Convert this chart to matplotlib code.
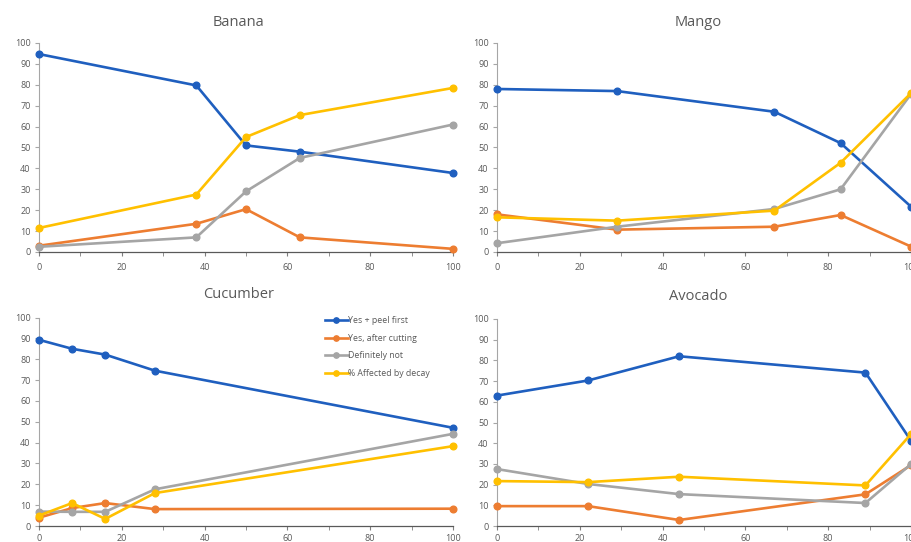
import numpy as np
import matplotlib
matplotlib.use('Agg')
import matplotlib.pyplot as plt

## survey results per fruit, x = % of sample affected by decay
banana_x = [0, 38, 50, 63, 100]
banana_peel = [94.7, 79.7, 51, 48, 37.8]
banana_cut = [3, 13.5, 20.5, 7, 1.5]
banana_not = [2.5, 7, 29, 45, 61]
banana_decay = [11.5, 27.5, 55, 65.5, 78.5]

mango_x = [0, 29, 67, 83, 100]
mango_peel = [78, 77, 67.1, 52.1, 21.7]
mango_cut = [18, 10.7, 12.1, 17.7, 2.6]
mango_not = [4.2, 12.1, 20.6, 30, 75.6]
mango_decay = [16.6, 15, 19.8, 42.7, 76]

cucumber_x = [0, 8, 16, 28, 100]
cucumber_peel = [89.3, 85, 82.2, 74.5, 47.1]
cucumber_cut = [4, 8.6, 11, 8.1, 8.3]
cucumber_not = [6.9, 6.8, 6.8, 17.6, 44.2]
cucumber_decay = [5, 11, 3.4, 15.8, 38.3]

avocado_x = [0, 22, 44, 89, 100]
avocado_peel = [63, 70.3, 82, 74.1, 41.2]
avocado_cut = [9.6, 9.6, 2.9, 15.3, 29.4]
avocado_not = [27.5, 20.3, 15.4, 11.1, 29.9]
avocado_decay = [21.7, 21.2, 23.8, 19.6, 44.4]

series_names = ['Yes + peel first', 'Yes, after cutting', 'Definitely not', '% Affected by decay']
series_colors = ['#1F5FBF', '#ED7D31', '#A5A5A5', '#FFC000']

panels = [
    ('Banana', banana_x, [banana_peel, banana_cut, banana_not, banana_decay]),
    ('Mango', mango_x, [mango_peel, mango_cut, mango_not, mango_decay]),
    ('Cucumber', cucumber_x, [cucumber_peel, cucumber_cut, cucumber_not, cucumber_decay]),
    ('Avocado', avocado_x, [avocado_peel, avocado_cut, avocado_not, avocado_decay]),
]

W, H = 912, 542
fig = plt.figure(figsize=(W / 100, H / 100), dpi=100)
plt.rcParams['font.family'] = ['Open Sans', 'DejaVu Sans']

## plot boxes in pixels: left, x=100 edge, y=0 row, y=100 row, title centre x, title y, x label pad
boxes = [
    (39, 453, 252, 43, 239, 22, 5),
    (497, 911, 252, 43, 698, 22, 5),
    (39, 453, 526, 317.5, 239, 295, 3),
    (497, 911, 526, 319, 698, 297, 3),
]

text_col = '#595959'
for (title, xs, ys_list), (x0, x1, yb, yt, tx, ty, xpad) in zip(panels, boxes):
    ax = fig.add_axes([x0 / W, 1 - yb / H, (x1 - x0) / W, (yb - yt) / H])
    for ys, name, col in zip(ys_list, series_names, series_colors):
        ax.plot(xs, ys, color=col, lw=1.9, marker='o', ms=4.8, label=name,
                clip_on=False, zorder=3)
    ax.set_xlim(0, 100)
    ax.set_ylim(0, 100)
    ax.set_xticks(np.arange(0, 101, 20))
    ax.set_xticks(np.arange(10, 100, 20), minor=True)
    ax.set_yticks(np.arange(0, 101, 10))
    ax.tick_params(axis='x', which='both', length=3, color='#7F7F7F')
    ax.tick_params(axis='x', which='major', pad=xpad, labelsize=6.5, labelcolor=text_col)
    ax.tick_params(axis='y', length=3, color='#A6A6A6', pad=3, labelsize=6.5, labelcolor=text_col)
    for s in ('top', 'right'):
        ax.spines[s].set_visible(False)
    ax.spines['left'].set_color('#A6A6A6')
    ax.spines['bottom'].set_color('#595959')
    ax.spines['left'].set_linewidth(0.8)
    ax.spines['bottom'].set_linewidth(0.9)
    fig.text(tx / W, 1 - ty / H, title, ha='center', va='center', fontsize=10.5, color=text_col)
    if title == 'Cucumber':
        leg = ax.legend(loc='upper left', bbox_to_anchor=(278 / 414, 1.045), frameon=False,
                        fontsize=6.3, handlelength=2.6, handletextpad=0.1,
                        labelspacing=1.0, markerscale=0.8)
        for t in leg.get_texts():
            t.set_color(text_col)

fig.savefig('out.png', dpi=100)
